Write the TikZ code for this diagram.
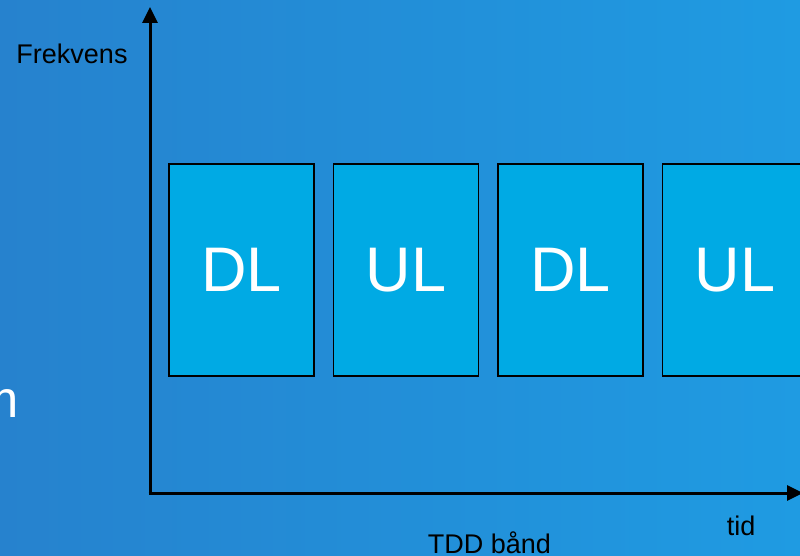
\documentclass[tikz,border=0pt]{standalone}
\usepackage{fontspec}
\setmainfont{Liberation Sans}
\usetikzlibrary{arrows.meta}
\definecolor{bgleft}{RGB}{38,130,206}
\definecolor{bgright}{RGB}{31,155,226}
\definecolor{boxfill}{RGB}{0,170,228}
\tikzset{
  slot/.style={draw=black, line width=1.6pt, fill=boxfill, minimum width=145pt, minimum height=212pt, inner sep=0pt, text=white, font=\fontsize{63}{70}\selectfont},
  axis/.style={line width=3pt, -{Triangle[length=16pt,width=15pt]}},
  lbl/.style={text=black, font=\fontsize{27}{32}\selectfont, inner sep=0pt}
}
\begin{document}
\begin{tikzpicture}[x=1pt,y=-1pt]
\useasboundingbox (0,0) rectangle (800,556);
\clip (0,0) rectangle (800,556);
\shade[left color=bgleft, right color=bgright] (0,0) rectangle (800,556);
\node[slot] (b1) at (241.5,270) {DL};
\node[slot] (b2) at (406,270) {UL};
\node[slot] (b3) at (570.5,270) {DL};
\node[slot] (b4) at (735,270) {UL};
\coordinate (o) at (150,493);
\coordinate (ytop) at (150,7);
\coordinate (xend) at (803,493);
\draw[axis] (o) -- (ytop);
\draw[axis] ([xshift=-1.5pt]o) -- (xend);
\node[lbl, anchor=base] (fq) at (72,64) {Frekvens};
\node[lbl, anchor=base] (td) at (741,535) {tid};
\node[lbl, anchor=base] (band) at (489.5,553) {TDD bånd};
\node[text=white, font=\fontsize{52}{60}\selectfont, inner sep=0pt, anchor=base east] (m) at (19,417) {m};
\end{tikzpicture}
\end{document}
